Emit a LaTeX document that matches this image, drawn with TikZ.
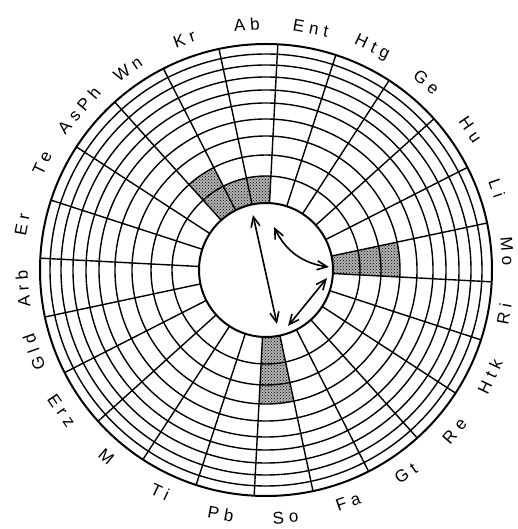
\documentclass[tikz,border=0pt]{standalone}
\usepackage{fontspec}
\newfontfamily\lblfont{Liberation Sans}[LetterSpace=30]
\usepackage{tikz}
\usetikzlibrary{arrows.meta,patterns}

\begin{document}
\begin{tikzpicture}[x=1pt, y=1pt,
  grid/.style={line width=1.4pt},
  rim/.style={line width=2pt},
  cell/.style={fill=black!30, postaction={pattern=crosshatch dots, pattern color=black}},
  lbl/.style={font=\lblfont\fontsize{17}{17}\selectfont, inner sep=0pt},
  arr/.style={{Straight Barb[length=10pt,width=9pt]}-{Straight Barb[length=10pt,width=9pt]},
              line width=1.6pt}
]
  \useasboundingbox (-266,-259) rectangle (252,270);
  \coordinate (C) at (0,0);

  % dotted cells: sector centre / inner radius / outer radius
  \foreach \a/\ri/\ro [evaluate=\a as \lo using \a-7.5,
                       evaluate=\a as \hi using \a+7.5] in
      {94.5/67/94, 109.5/67/94, 124.5/67/94, 124.5/94/115,
       4.5/67/94, 4.5/94/115, 4.5/115/134,
       -85.5/67/94, -85.5/94/115, -85.5/115/134}
    \fill[cell] (\lo:\ri) arc[start angle=\lo, end angle=\hi, radius=\ri]
      -- (\hi:\ro) arc[start angle=\hi, end angle=\lo, radius=\ro] -- cycle;

  % rings and spokes
  \foreach \r in {94,115,134,151,167,180,193,205,216}
    \draw[grid] (C) circle[radius=\r];
  \foreach \k [evaluate=\k as \t using -3+15*\k] in {0,...,23}
    \draw[grid] (\t:67) -- (\t:226);
  \draw[rim] (C) circle[radius=67];
  \draw[rim] (C) circle[radius=226];

  % sector names
  \foreach \n/\a/\d/\rot [count=\i] in
      {Ab/94.5/246/4.5, Ent/79.5/246/-10.5, Htg/64.5/246/-25.5, Ge/49.5/247/-40.5,
       Hu/34.5/248/-55.5, Li/19.5/245/-70.5, Mo/4.5/242/-85.5, Ri/-10.5/242/79.5,
       Htk/-25.5/248/64.5, Re/-40.5/248/49.5, Gt/-55.5/247/34.5, Fa/-70.5/246/19.5,
       So/-85.5/248/4.5, Pb/-100.5/248/-10.5, Ti/-115.5/246/-25.5, M/-130.5/246/-40.5,
       Erz/-145.5/248/-55.5, Gld/-160.5/246/109.5, Arb/-175.5/244/94.5, Er/169.5/248/79.5,
       Te/154.5/248/64.5, AsPh/139.5/246/49.5, Wn/124.5/244/34.5, Kr/109.5/245/19.5}
    \node[lbl, rotate=\rot] (s\i) at (\a:\d) {\n};

  % exchange arrows
  \coordinate (p1) at (-13,55);
  \coordinate (p2) at (11,-54);
  \coordinate (q1) at (8,43);
  \coordinate (q2) at (63,3);
  \coordinate (r1) at (22,-56);
  \coordinate (r2) at (61,-8);
  \draw[arr] (p1) -- (p2);
  \draw[arr] (q1) to[bend right=28] (q2);
  \draw[arr] (r1) -- (r2);
\end{tikzpicture}
\end{document}
